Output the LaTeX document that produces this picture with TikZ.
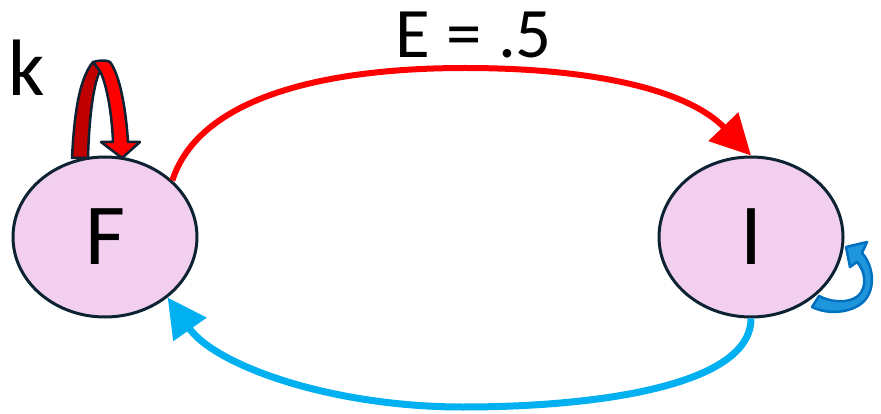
\documentclass[tikz,border=0pt]{standalone}
\usepackage{fontspec}
\setmainfont{Carlito}
\usetikzlibrary{shapes.geometric,arrows.meta}
\definecolor{nodefill}{RGB}{242,207,238}
\definecolor{navy}{RGB}{13,34,51}
\definecolor{myred}{RGB}{255,0,0}
\definecolor{darkred}{RGB}{192,0,0}
\definecolor{skyblue}{RGB}{0,176,240}
\definecolor{loopblue}{RGB}{30,150,220}
\definecolor{loopedge}{RGB}{0,112,192}
\tikzset{
  state/.style={ellipse, draw=navy, line width=3pt, fill=nodefill, minimum width=184pt, minimum height=160pt, inner sep=0pt, font=\fontsize{87}{87}\selectfont},
  lbl/.style={inner sep=0pt, text=black},
  redarrow/.style={draw=myred, line width=6pt, -{Triangle[length=40pt,width=40pt]}},
  bluearrow/.style={draw=skyblue, line width=7pt, -{Triangle[length=39pt,width=39pt]}},
  loopdark/.style={fill=darkred, draw=navy, line width=2.5pt, line join=round},
  loopbright/.style={fill=myred, draw=navy, line width=2.5pt, line join=round},
  loopb/.style={fill=loopblue, draw=loopedge, line width=2.5pt, line join=round}
}
\begin{document}
\begin{tikzpicture}[x=1pt,y=-1pt]
\useasboundingbox (0,0) rectangle (881,414);
\node[state] (F) at (105,237) {F};
\node[state] (I) at (751,237) {I};
\node[lbl, font=\fontsize{71}{71}\selectfont] (E) at (474,35) {E = .5};
\node[lbl, font=\fontsize{80}{80}\selectfont] (k) at (27,68) {k};
% red transition F -> I
\draw[redarrow] (F.40) .. controls (200,95) and (330,68) .. (465,68) .. controls (600,68) and (690,92) .. (I.north);
% blue transition I -> F
\draw[bluearrow] (I.south) .. controls (751,385) and (600,407) .. (463,407) .. controls (330,407) and (215,365) .. (F.-44);
% self loop on F (block arrow)
\filldraw[loopdark] (72,158) .. controls (74,120) and (78,80) .. (93,62) -- (100,71) .. controls (93,85) and (89,120) .. (88,158) -- cycle;
\filldraw[loopbright] (93,62) .. controls (100,60) and (107,60) .. (110,62) .. controls (120,75) and (126,110) .. (128,142) -- (140,142) -- (122,158) -- (101,142) -- (113,142) .. controls (112,115) and (107,85) .. (100,71) -- cycle;
% self loop on I (block arrow)
\filldraw[loopb] (812,307) .. controls (830,316) and (855,312) .. (865,300) .. controls (876,287) and (873,265) .. (862,253) -- (867,242) -- (846,247) -- (850,267) -- (857,262) .. controls (866,272) and (867,288) .. (858,296) .. controls (848,304) and (830,302) .. (819,296) -- cycle;
\end{tikzpicture}
\end{document}
